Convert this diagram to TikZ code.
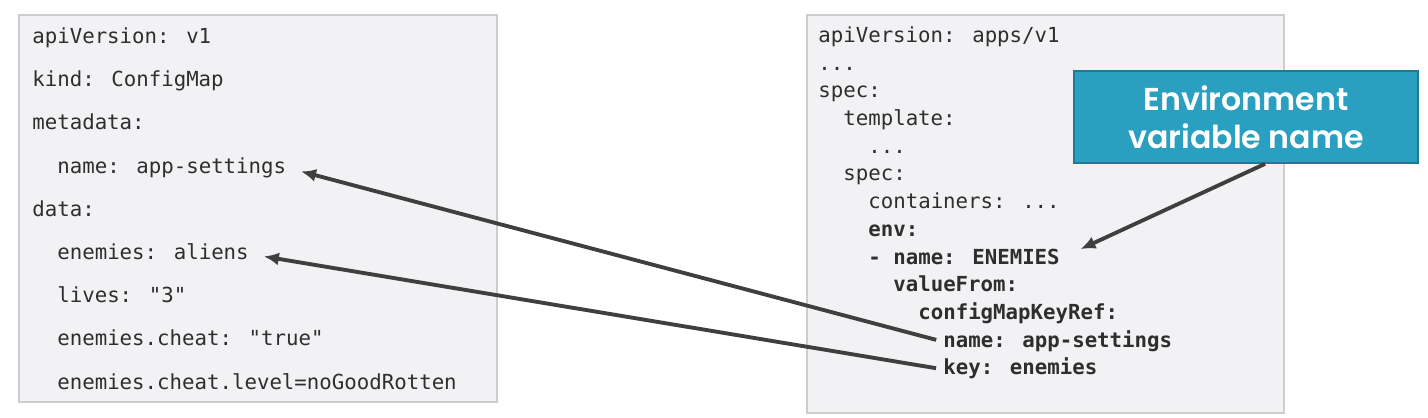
\documentclass[tikz,border=0pt]{standalone}
\usepackage{fontspec}
\usetikzlibrary{positioning, arrows.meta}
\newfontfamily\codefont{DejaVu Sans Mono}
\newfontfamily\notefont{Poppins}[UprightFont=* SemiBold]
\definecolor{panelfill}{HTML}{F2F2F4}
\definecolor{paneldraw}{HTML}{CDCDCF}
\definecolor{codegray}{HTML}{2E2E2E}
\definecolor{notefill}{HTML}{2A9FBF}
\definecolor{notedraw}{HTML}{1F7A94}
\definecolor{argray}{HTML}{3F3F3F}
\tikzstyle{panel}=[draw=paneldraw, fill=panelfill, line width=0.8pt]
\tikzstyle{code}=[inner sep=0pt, text=codegray, text height=0.3cm, text depth=0.08cm,
                  font=\codefont\fontsize{11.8}{14}\selectfont]
\tikzstyle{codeb}=[code, font=\codefont\bfseries\fontsize{11.8}{14}\selectfont]
\tikzstyle{note}=[draw=notedraw, fill=notefill, line width=1pt, text=white, align=center,
                  minimum width=6.88cm, minimum height=1.84cm,
                  font=\notefont\fontsize{18}{21.5}\selectfont]
\tikzstyle{ar}=[-{Latex[length=3mm, width=2.6mm]}, line width=2.2pt, draw=argray]

\begin{document}
\begin{tikzpicture}[x=0.02cm, y=0.02cm]
    \useasboundingbox (0,0) rectangle (1428,418);
    % panels
    \draw[panel] (19,16) rectangle (497,403);
    \draw[panel] (807,5) rectangle (1284,403);
    % ConfigMap
    \node[code, anchor=west] (a1) at (32,380) {apiVersion: v1};
    \node[code, below=0.47cm of a1.south west, anchor=north west] (a2) {kind: ConfigMap};
    \node[code, below=0.47cm of a2.south west, anchor=north west] (a3) {metadata:};
    \node[code, below=0.47cm of a3.south west, anchor=north west, xshift=0.5cm] (a4) {name: app-settings};
    \node[code, below=0.47cm of a4.south west, anchor=north west, xshift=-0.5cm] (a5) {data:};
    \node[code, below=0.47cm of a5.south west, anchor=north west, xshift=0.5cm] (a6) {enemies: aliens};
    \node[code, below=0.47cm of a6.south west, anchor=north west] (a7) {lives: "3"};
    \node[code, below=0.47cm of a7.south west, anchor=north west] (a8) {enemies.cheat: "true"};
    \node[code, below=0.47cm of a8.south west, anchor=north west] (a9) {enemies.cheat.level=noGoodRotten};
    % Deployment
    \node[code, anchor=west] (d1) at (818,381) {apiVersion: apps/v1};
    \node[code, below=0.16cm of d1.south west, anchor=north west] (d2) {...};
    \node[code, below=0.16cm of d2.south west, anchor=north west] (d3) {spec:};
    \node[code, below=0.16cm of d3.south west, anchor=north west, xshift=0.5cm] (d4) {template:};
    \node[code, below=0.16cm of d4.south west, anchor=north west, xshift=0.5cm] (d5) {...};
    \node[code, below=0.16cm of d5.south west, anchor=north west, xshift=-0.5cm] (d6) {spec:};
    \node[code, below=0.16cm of d6.south west, anchor=north west, xshift=0.5cm] (d7) {containers: ...};
    \node[codeb, below=0.16cm of d7.south west, anchor=north west] (d8) {env:};
    \node[codeb, below=0.16cm of d8.south west, anchor=north west] (d9) {- name: ENEMIES};
    \node[codeb, below=0.16cm of d9.south west, anchor=north west, xshift=0.5cm] (d10) {valueFrom:};
    \node[codeb, below=0.16cm of d10.south west, anchor=north west, xshift=0.5cm] (d11) {configMapKeyRef:};
    \node[codeb, below=0.16cm of d11.south west, anchor=north west, xshift=0.5cm] (d12) {name: app-settings};
    \node[codeb, below=0.16cm of d12.south west, anchor=north west] (d13) {key: enemies};
    % callout
    \node[note] (envnote) at (1246,301) {Environment\\variable name};
    \draw[ar, shorten <=0.14cm, shorten >=0.3cm] (d12.west) -- (a4.east);
    \draw[ar, shorten <=0.14cm, shorten >=0.3cm] (d13.west) -- (a6.east);
    \draw[ar, shorten >=0.45cm] ([xshift=0.38cm]envnote.south) -- (d9.east);
  \end{tikzpicture}
\end{document}
